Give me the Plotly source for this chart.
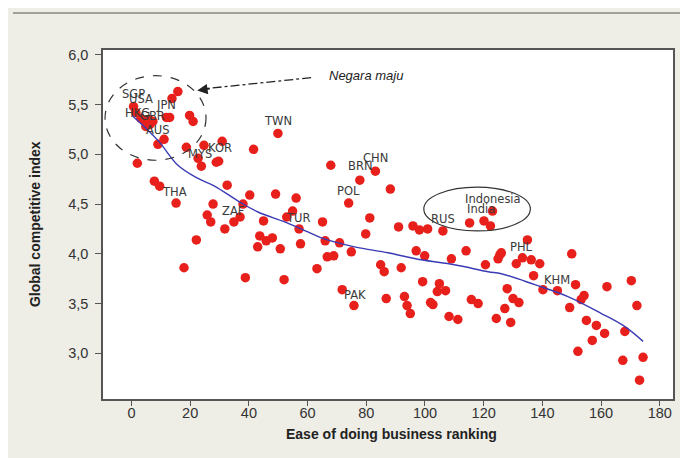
import plotly.graph_objects as go

# Scatter data: ease of doing business rank (x) vs global competitive index (y)
rank = [15.8, 13.8, 0.7, 1.5, 3.2, 4.6, 6.0, 6.3, 4.9, 7.3, 11.9, 13.0, 19.8, 21.0,
        11.1, 9.0, 18.7, 24.7, 30.9, 41.6, 49.9, 2.0, 22.7, 23.8, 28.9, 29.7, 7.8, 9.6,
        32.6, 15.2, 27.8, 38.0, 40.3, 49.1, 56.1, 25.8, 27.0, 34.9, 37.0, 45.0, 52.9,
        54.9, 31.8, 57.1, 22.1, 43.7, 45.9, 48.0, 43.0, 50.7, 57.6, 17.9, 38.8, 52.0,
        67.9, 77.8, 83.1, 88.2, 74.0, 65.1, 81.2, 79.8, 91.0, 95.9, 98.1, 100.9, 106.1,
        115.2, 120.1, 122.3, 123.0, 66.0, 70.9, 66.7, 68.9, 74.9, 63.2, 84.9, 86.1, 91.9,
        97.0, 99.9, 109.0, 114.0, 120.6, 99.2, 104.9, 104.2, 107.0, 71.8, 75.8, 86.8,
        93.0, 93.9, 95.0, 101.9, 102.7, 108.2, 111.2, 115.8, 118.1, 134.9, 125.5, 126.0,
        124.9, 133.2, 136.2, 139.1, 131.1, 150.0, 137.0, 140.2, 145.1, 151.3, 162.0,
        170.3, 128.0, 130.0, 132.0, 127.2, 124.3, 129.2, 149.3, 154.2, 153.2, 172.2,
        155.0, 158.4, 161.2, 157.0, 168.1, 152.1, 167.4, 174.3, 173.1]
gci = [5.63, 5.56, 5.48, 5.42, 5.36, 5.33, 5.35, 5.30, 5.28, 5.33, 5.37, 5.37, 5.39, 5.33,
       5.15, 5.10, 5.07, 5.09, 5.13, 5.05, 5.21, 4.91, 4.96, 4.88, 4.92, 4.93, 4.73, 4.68,
       4.69, 4.51, 4.50, 4.50, 4.59, 4.60, 4.56, 4.39, 4.32, 4.32, 4.37, 4.33, 4.37,
       4.43, 4.25, 4.25, 4.14, 4.18, 4.13, 4.16, 4.07, 4.05, 4.10, 3.86, 3.76, 3.74,
       4.89, 4.74, 4.83, 4.65, 4.51, 4.32, 4.36, 4.20, 4.27, 4.28, 4.24, 4.25, 4.23,
       4.31, 4.33, 4.28, 4.43, 4.13, 4.11, 3.97, 3.98, 4.02, 3.85, 3.89, 3.82, 3.86,
       4.03, 3.98, 3.95, 4.03, 3.89, 3.72, 3.70, 3.62, 3.63, 3.64, 3.48, 3.55,
       3.57, 3.48, 3.40, 3.51, 3.49, 3.37, 3.34, 3.54, 3.50, 4.14, 3.99, 4.01,
       3.95, 3.96, 3.94, 3.90, 3.90, 4.00, 3.78, 3.64, 3.63, 3.69, 3.67,
       3.73, 3.65, 3.55, 3.51, 3.45, 3.35, 3.31, 3.46, 3.58, 3.54, 3.48,
       3.33, 3.28, 3.20, 3.13, 3.22, 3.02, 2.93, 2.96, 2.73]

# Fitted trend line
fit_x = [0.2, 9.0, 15.8, 22.5, 28.3, 36.9, 43.1, 52.2, 60.1, 64.7, 76.0, 87.4, 98.7,
         110.1, 121.5, 126.0, 137.4, 148.7, 160.1, 168.0, 174.3]
fit_y = [5.39, 5.14, 4.89, 4.76, 4.68, 4.52, 4.42, 4.32, 4.22, 4.16, 4.07, 4.01, 3.94,
         3.89, 3.82, 3.80, 3.69, 3.57, 3.40, 3.27, 3.12]

# Country labels
lab_text = ["SGP", "USA", "JPN", "HKG", "GBR", "AUS", "MYS", "KOR", "TWN", "THA", "ZAF",
            "TUR", "BRN", "CHN", "POL", "RUS", "Indonesia", "India", "PHL", "KHM", "PAK"]
lab_x = [0.75, 3.1, 11.9, 1.9, 7.3, 9.0, 23.2, 30.1, 49.9, 14.7, 34.6,
         56.7, 77.8, 83.1, 74.0, 106.1, 123.2, 119.2, 132.8, 145.1, 76.0]
lab_y = [5.61, 5.56, 5.50, 5.41, 5.38, 5.24, 5.00, 5.06, 5.33, 4.62, 4.43,
         4.36, 4.88, 4.96, 4.63, 4.35, 4.55, 4.45, 4.07, 3.74, 3.59]

x_ticks = [0, 20, 40, 60, 80, 100, 120, 140, 160, 180]
y_ticks = [3.0, 3.5, 4.0, 4.5, 5.0, 5.5, 6.0]
y_ticktext = ["3,0", "3,5", "4,0", "4,5", "5,0", "5,5", "6,0"]

fig = go.Figure()
fig.add_trace(go.Scatter(x=rank, y=gci, mode="markers",
                         marker=dict(color="#e8201c", size=9.5, line=dict(width=0)),
                         hoverinfo="skip"))
fig.add_trace(go.Scatter(x=fit_x, y=fit_y, mode="lines",
                         line=dict(color="#3b3bb5", width=1.4, shape="spline"),
                         hoverinfo="skip"))

for t, x, y in zip(lab_text, lab_x, lab_y):
    fig.add_annotation(x=x, y=y, text=t, showarrow=False,
                       font=dict(family="DejaVu Sans", size=11.5, color="#3a3a3a"))

# Ellipses
fig.add_shape(type="circle", xref="x", yref="y", x0=-9.0, x1=25.4, y0=4.94, y1=5.79,
              line=dict(color="#333333", width=1.2, dash="dash"))
fig.add_shape(type="circle", xref="x", yref="y", x0=99.6, x1=135.9, y0=4.23, y1=4.67,
              line=dict(color="#333333", width=1.2))
# Dash-dot pointer line with arrowhead
fig.add_shape(type="line", xref="x", yref="y", x0=61.2, y0=5.77, x1=25.5, y1=5.66,
              line=dict(color="#222222", width=1.3, dash="dashdot"))
fig.add_annotation(x=22.4, y=5.64, ax=14, ay=-2, axref="pixel", ayref="pixel",
                   text="", showarrow=True, arrowhead=2, arrowsize=1.6,
                   arrowwidth=1.3, arrowcolor="#222222")
fig.add_annotation(x=79.8, y=5.79, text="<i>Negara maju</i>", showarrow=False,
                   font=dict(family="Liberation Sans", size=13, color="#222222"))

# Axis titles
fig.add_annotation(xref="paper", yref="paper", x=0.506, y=-0.101, yanchor="middle",
                   text="<b>Ease of doing business ranking</b>", showarrow=False,
                   font=dict(family="Liberation Sans", size=14, color="#222222"))
fig.add_annotation(xref="paper", yref="paper", x=-0.12, y=0.5, xanchor="center",
                   yanchor="middle",
                   text="<b>Global competitive index</b>", showarrow=False, textangle=-90,
                   font=dict(family="Liberation Sans", size=14, color="#222222"))

fig.update_layout(
    width=688, height=458,
    margin=dict(l=95, r=23, t=42, b=67),
    paper_bgcolor="#eeede6", plot_bgcolor="#ffffff",
    showlegend=False,
    xaxis=dict(range=[-9.7, 184.5], tickvals=x_ticks, ticks="outside", ticklen=5,
               tickcolor="#555555", showgrid=False, zeroline=False,
               showline=True, linecolor="#555555", linewidth=1.5, mirror=True,
               ticklabelstandoff=-5,
               tickfont=dict(family="Liberation Sans", size=14.5, color="#333333")),
    yaxis=dict(range=[2.541, 6.048], tickvals=y_ticks, ticktext=y_ticktext,
               ticks="outside", ticklen=6, tickcolor="#555555", showgrid=False,
               zeroline=False, showline=True, linecolor="#555555", linewidth=1.5,
               mirror=True, ticklabelstandoff=4,
               tickfont=dict(family="Liberation Sans", size=14.5, color="#333333")),
)
fig.add_shape(type="line", xref="paper", yref="paper", x0=-0.158, x1=1.05, y0=1.106, y1=1.106,
              line=dict(color="#555555", width=1))

fig.write_html("out.html")
